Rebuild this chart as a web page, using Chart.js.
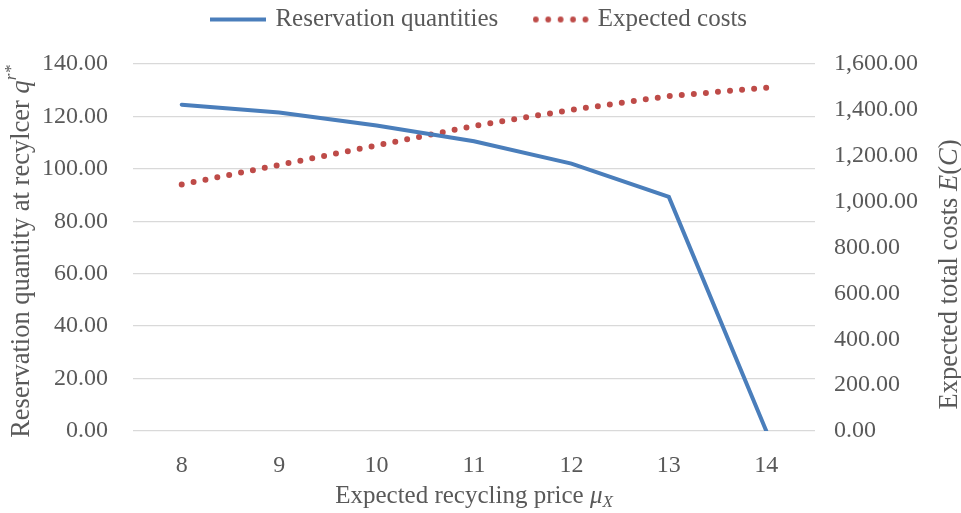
<!DOCTYPE html>
<html>
<head>
<meta charset="utf-8">
<script src="https://cdn.jsdelivr.net/npm/chart.js@4/dist/chart.umd.min.js"></script>
<style>
  html, body { margin: 0; padding: 0; background: #fff; }
  #wrap { width: 961px; height: 513px; }
</style>
</head>
<body>
<div id="wrap"><canvas id="chart"></canvas></div>
<script>
// --- DATA ---
const prices = ['8', '9', '10', '11', '12', '13', '14'];
const reservationQty = [124.5, 121.5, 116.5, 110.5, 102, 89.3, 0];
const expectedCosts = [1075, 1160, 1245, 1330, 1400, 1460, 1497];
const leftTicks = [0, 20, 40, 60, 80, 100, 120, 140];
const rightTicks = [0, 200, 400, 600, 800, 1000, 1200, 1400, 1600];

const TEXT = '#595959';
const BLUE = '#4a7ebb';
const RED = '#be4b48';
const SERIF = '"Liberation Serif", "Times New Roman", serif';

// legend markers: solid line and row of dots
function legendIcon(dotted, color) {
    const c = document.createElement('canvas');
    c.width = 56; c.height = 8;
    const g = c.getContext('2d');
    g.fillStyle = color;
    g.strokeStyle = color;
    if (dotted) {
        for (let i = 0; i < 5; i++) {
            g.beginPath();
            g.arc(3 + i * 12.4, 4, 2.9, 0, Math.PI * 2);
            g.fill();
        }
    } else {
        g.lineWidth = 4;
        g.beginPath(); g.moveTo(0, 4); g.lineTo(56, 4); g.stroke();
    }
    return c;
}

// draws a run of differently styled pieces as one centred label
function drawRich(ctx, parts, x, y, rot) {
    ctx.save();
    ctx.translate(x, y);
    ctx.rotate(rot);
    ctx.fillStyle = TEXT;
    ctx.textBaseline = 'middle';
    ctx.textAlign = 'left';
    let total = 0;
    parts.forEach(p => { ctx.font = p.font; total += ctx.measureText(p.text).width; });
    let cx = -total / 2;
    parts.forEach(p => {
        ctx.font = p.font;
        ctx.fillText(p.text, cx, p.dy || 0);
        cx += ctx.measureText(p.text).width;
    });
    ctx.restore();
}

// legend box gets a fixed height so the plot starts lower
const legendHeight = {
    id: 'legendHeight',
    beforeInit(chart) {
        const lg = chart.legend;
        if (!lg) return;
        const fit = lg.fit;
        lg.fit = function () {
            fit.call(this);
            this.height = 95;
        };
    }
};

const axisTitles = {
    id: 'axisTitles',
    afterDraw(chart) {
        const ctx = chart.ctx;
        const a = chart.chartArea;
        const mid = (a.top + a.bottom) / 2;
        const reg = '26.5px ' + SERIF, ita = 'italic 26.5px ' + SERIF, sup = 'italic 17px ' + SERIF;
        drawRich(ctx, [
            { text: 'Reservation quantity at recylcer ', font: reg },
            { text: 'q', font: ita },
            { text: 'r*', font: sup, dy: -10 }
        ], 22, mid + 4, -Math.PI / 2);
        drawRich(ctx, [
            { text: 'Expected total costs ', font: reg },
            { text: 'E', font: ita },
            { text: '(', font: reg },
            { text: 'C', font: ita },
            { text: ')', font: reg }
        ], 950, mid + 27, -Math.PI / 2);
        const xr = '25px ' + SERIF, xi = 'italic 25px ' + SERIF;
        drawRich(ctx, [
            { text: 'Expected recycling price ', font: xr },
            { text: 'μ', font: xi },
            { text: 'X', font: sup, dy: 7 }
        ], (a.left + a.right) / 2, 496, 0);
    }
};

const fmt = v => v.toLocaleString('en-US', { minimumFractionDigits: 2, maximumFractionDigits: 2 });

new Chart(document.getElementById('chart'), {
    type: 'line',
    data: {
        labels: prices,
        datasets: [
            { label: 'Reservation quantities', data: reservationQty, yAxisID: 'y',
              borderColor: BLUE, backgroundColor: BLUE, borderWidth: 4,
              pointRadius: 0, pointStyle: legendIcon(false, BLUE), tension: 0, borderCapStyle: 'round' },
            { label: 'Expected costs', data: expectedCosts, yAxisID: 'y1',
              borderColor: RED, backgroundColor: RED, borderWidth: 6,
              borderDash: [0, 12.1], borderCapStyle: 'round',
              pointRadius: 0, pointStyle: legendIcon(true, RED), tension: 0 }
        ]
    },
    options: {
        responsive: true, maintainAspectRatio: false, animation: false,
        layout: { padding: { top: -31, right: 0, left: 0, bottom: 0 } },
        plugins: {
            tooltip: { enabled: false },
            legend: {
                position: 'top',
                labels: {
                    color: TEXT, font: { family: SERIF, size: 25 },
                    usePointStyle: true, pointStyleWidth: 49,
                    boxHeight: 10, padding: 38
                }
            }
        },
        scales: {
            x: {
                offset: true,
                grid: { display: false },
                border: { display: false },
                ticks: { color: TEXT, font: { family: SERIF, size: 24 }, padding: 12 },
                afterFit: s => { s.height = 82; }
            },
            y: {
                position: 'left', min: 0, max: 140,
                afterBuildTicks: s => { s.ticks = leftTicks.map(v => ({ value: v })); },
                grid: { color: '#d9d9d9', lineWidth: 1.3, drawTicks: false },
                border: { display: false },
                ticks: { color: TEXT, font: { family: SERIF, size: 24 }, padding: 25, callback: v => fmt(v) },
                afterFit: s => { s.width = 133; }
            },
            y1: {
                position: 'right', min: 0, max: 1600,
                afterBuildTicks: s => { s.ticks = rightTicks.map(v => ({ value: v })); },
                grid: { display: false, drawTicks: false },
                border: { display: false },
                ticks: { color: TEXT, font: { family: SERIF, size: 24 }, padding: 19, callback: v => fmt(v) },
                afterFit: s => { s.width = 146; }
            }
        }
    },
    plugins: [legendHeight, axisTitles]
});
</script>
</body>
</html>
